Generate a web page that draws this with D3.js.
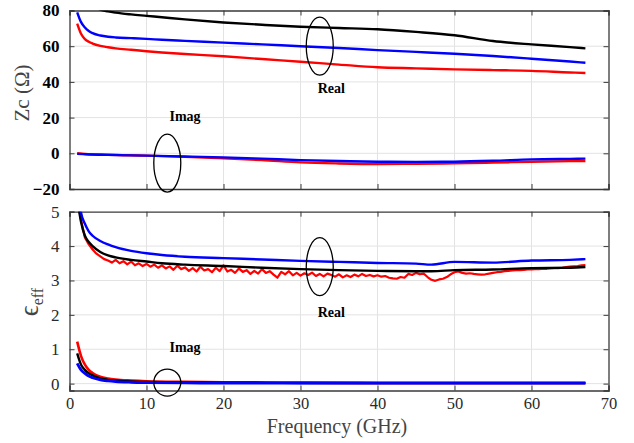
<!DOCTYPE html>
<html><head><meta charset="utf-8">
<script src="https://cdn.jsdelivr.net/npm/d3@7"></script>
<style>
body{margin:0;background:#fff;}
svg text{font-family:"Liberation Serif","DejaVu Serif",serif;}
</style></head>
<body><svg id="c" width="634" height="443"></svg>
<script>
// ---------- DATA ----------
const xTicks = [0,10,20,30,40,50,60,70];
const zcTicks = [-20,0,20,40,60,80];
const epsTicks = [0,1,2,3,4,5];

// Top panel: characteristic impedance (real)
const fZ = [1,1.5,2,2.5,3,4,5,6,8,10,12,15,20,25,30,35,40,45,50,55,60,65,67];
const zReBlack = [95,90,87,85,83,80.5,79.5,78.8,77.8,77,76.2,75,73.3,72,70.9,70.2,69.5,68,66.1,62.9,61,59.5,58.8];
const zReBlue  = [79,73.5,70.5,68.5,67.3,66,65.3,64.9,64.5,64.1,63.6,63,62,61,60,59,57.8,56.8,55.8,54.5,53,51.4,50.7];
const zReRed   = [72.7,67,64,62.5,61.5,60.2,59.4,58.8,58,57.2,56.5,55.6,54.4,52.8,51.3,49.7,48.2,47.6,47,46.6,46.2,45.3,45];
// Top panel: imaginary part
const fZi = [1,2,5,10,15,20,25,30,35,40,45,50,55,60,65,67];
const zImBlue = [-0.3,-0.5,-0.9,-1.3,-1.8,-2.3,-3,-3.8,-4.3,-4.7,-4.8,-4.7,-4.2,-3.4,-3.1,-3.0];
const zImRed  = [0,-0.3,-0.8,-1.3,-2,-2.8,-3.8,-5.1,-5.7,-6,-5.9,-5.6,-5.2,-4.7,-4.4,-4.3];

// Bottom panel: effective permittivity (real)
const fE = [1,1.5,2,2.5,3,4,5,6,8,10,12,15,20,25,30,35,40,45,47,50,55,60,65,67];
const eReBlue  = [5.9,4.97,4.65,4.43,4.3,4.15,4.05,3.97,3.86,3.79,3.74,3.69,3.65,3.61,3.57,3.54,3.51,3.49,3.46,3.54,3.52,3.58,3.6,3.62];
const eReBlack = [5.4,4.7,4.3,4.12,4.0,3.83,3.73,3.67,3.6,3.55,3.5,3.46,3.42,3.37,3.33,3.3,3.28,3.27,3.27,3.3,3.32,3.36,3.37,3.39];
const fEr = [1,1.25,1.5,2,2.5,3,3.5,4,4.5,5,5.5,6,6.5,7,7.5,8,8.5,9,9.5,10,10.5,11,11.5,12,12.5,13,13.5,14,14.5,15,15.5,16,16.5,17,17.5,18,18.5,19,19.5,20,20.5,21,21.5,22,22.5,23,23.5,24,24.5,25,25.5,26,26.5,27,27.5,28,28.5,29,29.5,30,30.5,31,31.5,32,32.5,33,33.5,34,34.5,35,35.5,36,36.5,37,37.5,38,38.5,39,39.5,40,40.5,41,41.5,42,42.5,43,43.5,44,44.5,45,45.5,46,46.5,47,47.5,48,48.5,49,49.5,50,50.5,51,51.5,52,52.5,53,53.5,54,54.5,55,55.5,56,56.5,57,57.5,58,58.5,59,59.5,60,60.5,61,61.5,62,62.5,63,63.5,64,64.5,65,65.5,66,66.5,67];
const eReRed = [5.6,5.1,4.75,4.25,4.05,3.9,3.78,3.7,3.62,3.58,3.52,3.60,3.50,3.56,3.47,3.55,3.44,3.50,3.42,3.48,3.40,3.46,3.37,3.44,3.35,3.41,3.31,3.43,3.33,3.38,3.28,3.36,3.26,3.40,3.29,3.33,3.24,3.37,3.27,3.44,3.26,3.31,3.22,3.35,3.25,3.30,3.19,3.28,3.20,3.33,3.22,3.27,3.17,3.08,3.25,3.18,3.27,3.15,3.22,3.14,3.21,3.16,3.23,3.13,3.19,3.12,3.20,3.16,3.11,3.18,3.09,3.15,3.10,3.17,3.12,3.19,3.13,3.16,3.12,3.15,3.11,3.13,3.08,3.06,3.05,3.10,3.08,3.19,3.16,3.22,3.18,3.20,3.10,3.02,2.99,3.03,3.05,3.10,3.18,3.24,3.26,3.22,3.20,3.21,3.19,3.18,3.17,3.18,3.20,3.22,3.24,3.25,3.27,3.28,3.29,3.30,3.30,3.31,3.32,3.32,3.33,3.33,3.34,3.34,3.35,3.36,3.36,3.37,3.39,3.40,3.41,3.42,3.44,3.45];
// Bottom panel: imaginary part
const fEi = [1,1.5,2,2.5,3,4,5,6,8,10,15,20,30,40,50,60,67];
const eImRed   = [1.22,0.8,0.55,0.4,0.31,0.2,0.15,0.12,0.09,0.07,0.05,0.04,0.03,0.02,0.02,0.02,0.02];
const eImBlack = [0.88,0.55,0.4,0.3,0.24,0.15,0.11,0.09,0.06,0.05,0.035,0.03,0.02,0.02,0.02,0.02,0.02];
const eImBlue  = [0.59,0.4,0.3,0.22,0.17,0.11,0.08,0.06,0.04,0.03,0.02,0.015,0.015,0.015,0.015,0.015,0.015];

// ---------- LAYOUT ----------
const svg = d3.select("#c");
const L = 69.5, R = 608.5;
const x = d3.scaleLinear().domain([0,70]).range([L,R]);
const yTop = d3.scaleLinear().domain([-20,80]).range([189,10.5]);
const yBot = d3.scaleLinear().domain([-0.2,5]).range([390.5,211.7]);
const gridC = "#e3e3e3", axC = "#3a3a3a";

function panel(id, y, yTicks, boldLabels, showX){
  const g = svg.append("g");
  const [y0,y1] = y.range();
  g.selectAll(".gx").data(xTicks.slice(1,-1)).join("line")
    .attr("x1",d=>x(d)).attr("x2",d=>x(d)).attr("y1",y0).attr("y2",y1)
    .attr("stroke",gridC).attr("stroke-width",1);
  g.selectAll(".gy").data(yTicks.filter(t=>y(t)>y1+1 && y(t)<y0-1)).join("line")
    .attr("y1",d=>y(d)).attr("y2",d=>y(d)).attr("x1",L).attr("x2",R)
    .attr("stroke",gridC).attr("stroke-width",1);
  svg.append("defs").append("clipPath").attr("id",id)
    .append("rect").attr("x",L).attr("y",y1).attr("width",R-L).attr("height",y0-y1);
  const ax = svg.append("g");
  const bottom = d3.axisBottom(x).tickValues(xTicks).tickSize(-5).tickPadding(7).tickFormat(showX? d3.format("d") : ()=>"");
  const top = d3.axisTop(x).tickValues(xTicks).tickSize(-5).tickFormat(()=>"");
  const left = d3.axisLeft(y).tickValues(yTicks).tickSize(-5).tickPadding(10).tickFormat(d3.format("d"));
  const right = d3.axisRight(y).tickValues(yTicks).tickSize(-5).tickFormat(()=>"");
  const gb = ax.append("g").attr("transform",`translate(0,${y0})`).call(bottom);
  const gt = ax.append("g").attr("transform",`translate(0,${y1})`).call(top);
  const gl = ax.append("g").attr("transform",`translate(${L},0)`).call(left);
  const gr = ax.append("g").attr("transform",`translate(${R},0)`).call(right);
  [gb,gt,gl,gr].forEach(a=>{
    a.select(".domain").attr("stroke",axC).attr("stroke-width",1.3);
    a.selectAll(".tick line").attr("stroke",axC).attr("stroke-width",1);
    a.selectAll(".tick text").attr("font-size",17).attr("fill",boldLabels?"#000":"#2a2a2a")
      .attr("font-weight",boldLabels?"bold":"normal");
  });
  gb.selectAll(".tick text").attr("font-size",16.5);
  return g;
}

const gTop = panel("clipTop", yTop, zcTicks, true, false);
const gBot = panel("clipBot", yBot, epsTicks, false, true);

function drawLine(fx, vals, y, color, clip, w, curve){
  const line = d3.line().x((d,i)=>x(fx[i])).y(d=>y(d)).curve(curve||d3.curveMonotoneX);
  svg.append("path").datum(vals).attr("d",line).attr("fill","none")
    .attr("stroke",color).attr("stroke-width",w||2.4).attr("stroke-linejoin","round")
    .attr("clip-path",`url(#${clip})`);
}

// top
drawLine(fZi, zImRed, yTop, "#ff0000", "clipTop");
drawLine(fZi, zImBlue, yTop, "#0000ff", "clipTop");
drawLine(fZ, zReRed, yTop, "#ff0000", "clipTop");
drawLine(fZ, zReBlack, yTop, "#000000", "clipTop");
drawLine(fZ, zReBlue, yTop, "#0000ff", "clipTop");
// bottom
drawLine(fEr, eReRed, yBot, "#ff0000", "clipBot", 2.2, d3.curveLinear);
drawLine(fE, eReBlack, yBot, "#000000", "clipBot");
drawLine(fE, eReBlue, yBot, "#0000ff", "clipBot");
drawLine(fEi, eImRed, yBot, "#ff0000", "clipBot", 2.6);
drawLine(fEi, eImBlack, yBot, "#000000", "clipBot", 2.4);
drawLine(fEi, eImBlue, yBot, "#0000ff", "clipBot", 2.8);

// annotations (data coordinates)
function ellipse(cx, cy, rxPx, ryPx, y){
  svg.append("ellipse").attr("cx",x(cx)).attr("cy",y(cy)).attr("rx",rxPx).attr("ry",ryPx)
    .attr("fill","none").attr("stroke","#000").attr("stroke-width",1.3);
}
function label(t, fx, v, y){
  svg.append("text").attr("x",x(fx)).attr("y",y(v)).attr("text-anchor","middle")
    .attr("dominant-baseline","middle").attr("font-size",14).attr("font-weight","bold").text(t);
}
ellipse(32.5, 60, 13.5, 29, yTop);
ellipse(12.7, -5.5, 13.5, 29, yTop);
label("Real", 34, 35.5, yTop);
label("Imag", 15, 20, yTop);
ellipse(32.5, 3.4, 13.5, 29, yBot);
ellipse(12.7, 0.03, 13.5, 13.5, yBot);
label("Real", 34, 2.02, yBot);
label("Imag", 15, 1.0, yBot);

// axis titles
svg.append("text").attr("transform","translate(29,93) rotate(-90)").attr("text-anchor","middle")
  .attr("font-size",21).attr("fill","#444").text("Zc (Ω)");
const et = svg.append("text").attr("transform","translate(38,302) rotate(-90)").attr("text-anchor","middle")
  .attr("fill","#444");
et.append("tspan").attr("font-size",27).text("ϵ");
et.append("tspan").attr("font-size",16).attr("dy",5).text("eff");
svg.append("text").attr("x",(L+R)/2 - 2).attr("y",433).attr("text-anchor","middle")
  .attr("font-size",20).attr("fill","#444").text("Frequency (GHz)");
</script></body></html>
